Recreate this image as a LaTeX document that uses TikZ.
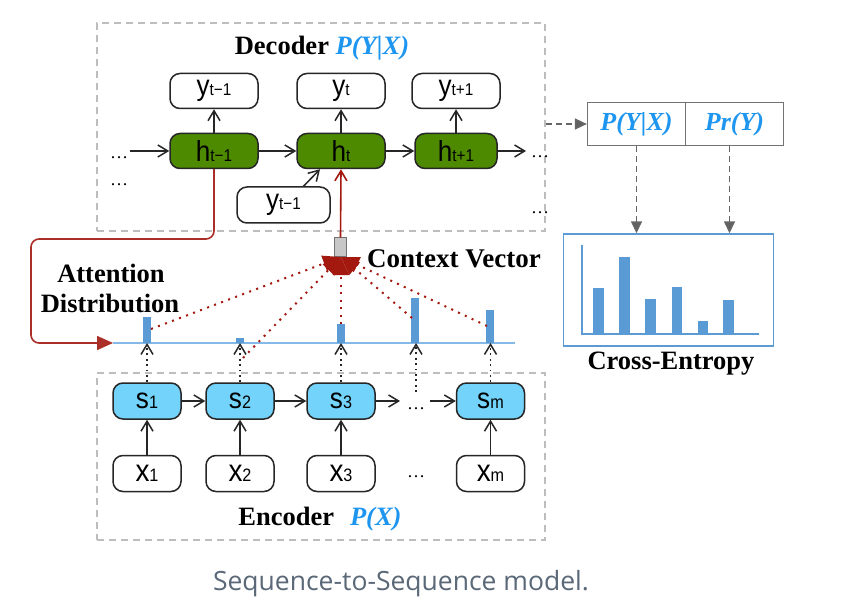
\documentclass[tikz,border=0pt]{standalone}
\usepackage{fontspec}
\setmainfont{Liberation Serif}
\newfontfamily\arialf[FakeStretch=0.9]{Liberation Sans}
\newfontfamily\capf{Open Sans}
\usetikzlibrary{arrows.meta}
\definecolor{dgreen}{HTML}{4E8A00}
\definecolor{lcyan}{HTML}{73D3FB}
\definecolor{pblue}{HTML}{1E96F0}
\definecolor{barblue}{HTML}{5B9BD5}
\definecolor{lineblue}{HTML}{85B9E8}
\definecolor{dred}{HTML}{A3180F}
\definecolor{capgray}{HTML}{5A6878}
\definecolor{dashgray}{HTML}{BDBDBD}
\newcommand\tl[4]{{\fontsize{#1}{#1}\selectfont #2}{\fontsize{#3}{#3}\selectfont #4}}
\newcommand\ttl[1]{\fontsize{26.5}{26.5}\selectfont\bfseries #1}
\begin{document}
\begin{tikzpicture}[x=1pt,y=-1pt,
  box/.style={draw=black!85,line width=1.5pt,rounded corners=10pt,minimum width=88pt,minimum height=35pt,inner sep=0pt,font=\arialf},
  hbox/.style={box,fill=dgreen},
  ybox/.style={box,fill=white},
  sbox/.style={box,fill=lcyan,minimum width=68pt,minimum height=36pt},
  xbox/.style={box,fill=white,minimum width=68pt,minimum height=36pt},
  conn/.style={line width=1.5pt,black!85,-{Straight Barb[length=10pt,width=12pt,line width=1.5pt]}},
  dotconn/.style={line width=1.8pt,black!85,dash pattern=on 1.8pt off 3.6pt,-{Straight Barb[length=10pt,width=12pt,line width=1.5pt]}},
  redconn/.style={line width=1.6pt,dred,-{Straight Barb[length=10pt,width=12pt,line width=1.6pt]}},
  redpath/.style={line width=1.6pt,dred!90,rounded corners=8pt,-{Triangle[length=16pt,width=14pt]}},
  reddot/.style={line width=2pt,dred,dash pattern=on 2pt off 5.5pt,-{Triangle[length=18pt,width=16pt]}},
  dashbox/.style={draw=dashgray,line width=1.3pt,dash pattern=on 7pt off 5pt,inner sep=0pt},
  grayarrow/.style={draw=black!60,line width=1.5pt,dash pattern=on 6pt off 4pt,-{Triangle[length=12pt,width=11pt,fill=black!62]}},
  cell/.style={draw=black!55,line width=1.2pt,minimum width=98pt,minimum height=43pt,inner sep=0pt,font=\fontsize{26}{26}\selectfont\bfseries\itshape,text=pblue},
  dots/.style={anchor=base,font=\fontsize{18}{18}\selectfont,inner sep=0pt},
  ttext/.style={anchor=base,inner sep=0pt,font=\ttl{}},
  bar/.style={fill=barblue}
]
\useasboundingbox[fill=white] (0,0) rectangle (864,612);

% dashed boxes
\node[dashbox,minimum width=448pt,minimum height=208pt] (dec) at (321,127) {};
\node[dashbox,minimum width=448pt,minimum height=167pt] (enc) at (321,456.5) {};

% titles
\node[ttext] (dect) at (322,55) {Decoder \textcolor{pblue}{\itshape P(Y|X)}};
\node[ttext] (enct) at (320,525) {Encoder\hspace{0.6em}\textcolor{pblue}{\itshape P(X)}};
\node[ttext,font=\fontsize{27}{27}\selectfont\bfseries] (cvt) at (454,267) {Context Vector};
\node[ttext] (att1) at (111,282) {Attention};
\node[ttext] (att2) at (110,312) {Distribution};
\node[ttext] (cet) at (671,369) {Cross-Entropy};
\node[anchor=base,inner sep=0pt,font=\capf\fontsize{26.5}{26.5}\selectfont,text=capgray] (cap) at (401,590) {Sequence-to-Sequence model.};

% decoder nodes
\node[ybox] (y1) at (214,91) {\tl{29}{y}{17}{t−1}};
\node[ybox] (y2) at (341,91) {\tl{29}{y}{17}{t}};
\node[ybox] (y3) at (456,91) {\tl{29}{y}{17}{t+1}};
\node[hbox] (h1) at (214,151) {\tl{29}{h}{17}{t−1}};
\node[hbox] (h2) at (341,151) {\tl{29}{h}{17}{t}};
\node[hbox,minimum width=82pt] (h3) at (456,151) {\tl{29}{h}{17}{t+1}};
\node[ybox,minimum width=93pt,minimum height=36pt] (yl) at (283.5,205) {\tl{29}{y}{17}{t−1}};

\node[dots] (dl1) at (119,159) {…};
\node[dots] (dl2) at (119,186) {…};
\node[dots] (dr1) at (540,158) {…};
\node[dots] (dr2) at (540,214) {…};

\coordinate (inL) at (130,151);
\coordinate (outR) at (526,151);
\draw[conn] (inL) -- (h1.west);
\draw[conn] (h1.east) -- (h2.west);
\draw[conn] (h2.east) -- (h3.west);
\draw[conn] (h3.east) -- (outR);
\draw[conn] (h1.north) -- (y1.south);
\draw[conn] (h2.north) -- (y2.south);
\draw[conn] (h3.north) -- (y3.south);
\draw[conn] ([xshift=20pt]yl.north) -- ([xshift=-21pt]h2.south);

% context vector
\node[draw=black!55,fill=black!22,line width=1pt,minimum width=12pt,minimum height=19pt,inner sep=0pt] (cv) at (340.5,247.5) {};
\draw[redconn] (cv.north) -- (h2.south);

% attention line
\coordinate (bl1) at (113,343);
\coordinate (bl2) at (515,343);
\draw[redpath] (h1.south) -- (214,239) -- (31,239) -- (31,343) -- (bl1);
\draw[lineblue,line width=2.2pt] (bl1) -- (bl2);
\fill[bar] (143,317) rectangle (151,343);
\fill[bar] (236,338) rectangle (244,343);
\fill[bar] (337,324) rectangle (345,343);
\fill[bar] (411,298) rectangle (419,343);
\fill[bar] (486,310) rectangle (494,343);

% encoder nodes
\node[sbox] (s1) at (147,401) {\tl{29}{s}{18}{1}};
\node[sbox] (s2) at (240,401) {\tl{29}{s}{18}{2}};
\node[sbox] (s3) at (341,401) {\tl{29}{s}{18}{3}};
\node[sbox] (sm) at (490.5,401) {\tl{29}{s}{18}{m}};
\node[xbox] (x1) at (147,473.5) {\tl{31}{x}{18}{1}};
\node[xbox] (x2) at (240,473.5) {\tl{31}{x}{18}{2}};
\node[xbox] (x3) at (341,473.5) {\tl{31}{x}{18}{3}};
\node[xbox] (xm) at (490.5,473.5) {\tl{31}{x}{18}{m}};
\node[dots] (de1) at (416,409) {…};
\node[dots] (de2) at (416,477) {…};

\coordinate (s3out) at (400,401);
\coordinate (smin) at (430,401);
\draw[conn] (s1.east) -- (s2.west);
\draw[conn] (s2.east) -- (s3.west);
\draw[conn] (s3.east) -- (s3out);
\draw[conn] (smin) -- (sm.west);
\draw[conn] (x1.north) -- (s1.south);
\draw[conn] (x2.north) -- (s2.south);
\draw[conn] (x3.north) -- (s3.south);
\draw[conn] (xm.north) -- (sm.south);

\coordinate (dotsup) at (416,392);
\draw[dotconn] (s1.north) -- (s1.north |- bl1);
\draw[dotconn] (s2.north) -- (s2.north |- bl1);
\draw[dotconn] (s3.north) -- (s3.north |- bl1);
\draw[dotconn] (dotsup) -- (dotsup |- bl1);
\draw[dotconn] (sm.north) -- (sm.north |- bl1);

% attention to context vector
\coordinate (cvtip) at (341,257);
\coordinate (a1) at (151,329);
\coordinate (a2) at (243,358);
\coordinate (a3) at (341,324);
\coordinate (a4) at (412,318);
\coordinate (a5) at (487,326);
\draw[reddot] (a1) -- (cvtip);
\draw[reddot] (a2) -- (cvtip);
\draw[reddot] (a3) -- (cvtip);
\draw[reddot] (a4) -- (cvtip);
\draw[reddot] (a5) -- (cvtip);

% right side
\node[cell] (pl) at (636.5,124) {P(Y|X)};
\node[cell] (pr) at (734.5,124) {Pr(Y)};
\draw[grayarrow] (dec.east |- pl.west) -- (pl.west);
\node[draw=barblue,line width=1.4pt,minimum width=210pt,minimum height=112pt,inner sep=0pt] (ce) at (668.5,290) {};
\draw[grayarrow] (pl.south) -- (pl.south |- ce.north);
\draw[grayarrow] ([xshift=-5pt]pr.south) -- ([xshift=-5pt]pr.south |- ce.north);
\draw[barblue,line width=1.2pt] (582,245) -- (582,334) -- (759,334);
\fill[bar] (593,288) rectangle (604,334);
\fill[bar] (619,257) rectangle (630,334);
\fill[bar] (645,299) rectangle (656,334);
\fill[bar] (672,287) rectangle (682,334);
\fill[bar] (698,321) rectangle (708,334);
\fill[bar] (723,300) rectangle (734,334);
\end{tikzpicture}
\end{document}
